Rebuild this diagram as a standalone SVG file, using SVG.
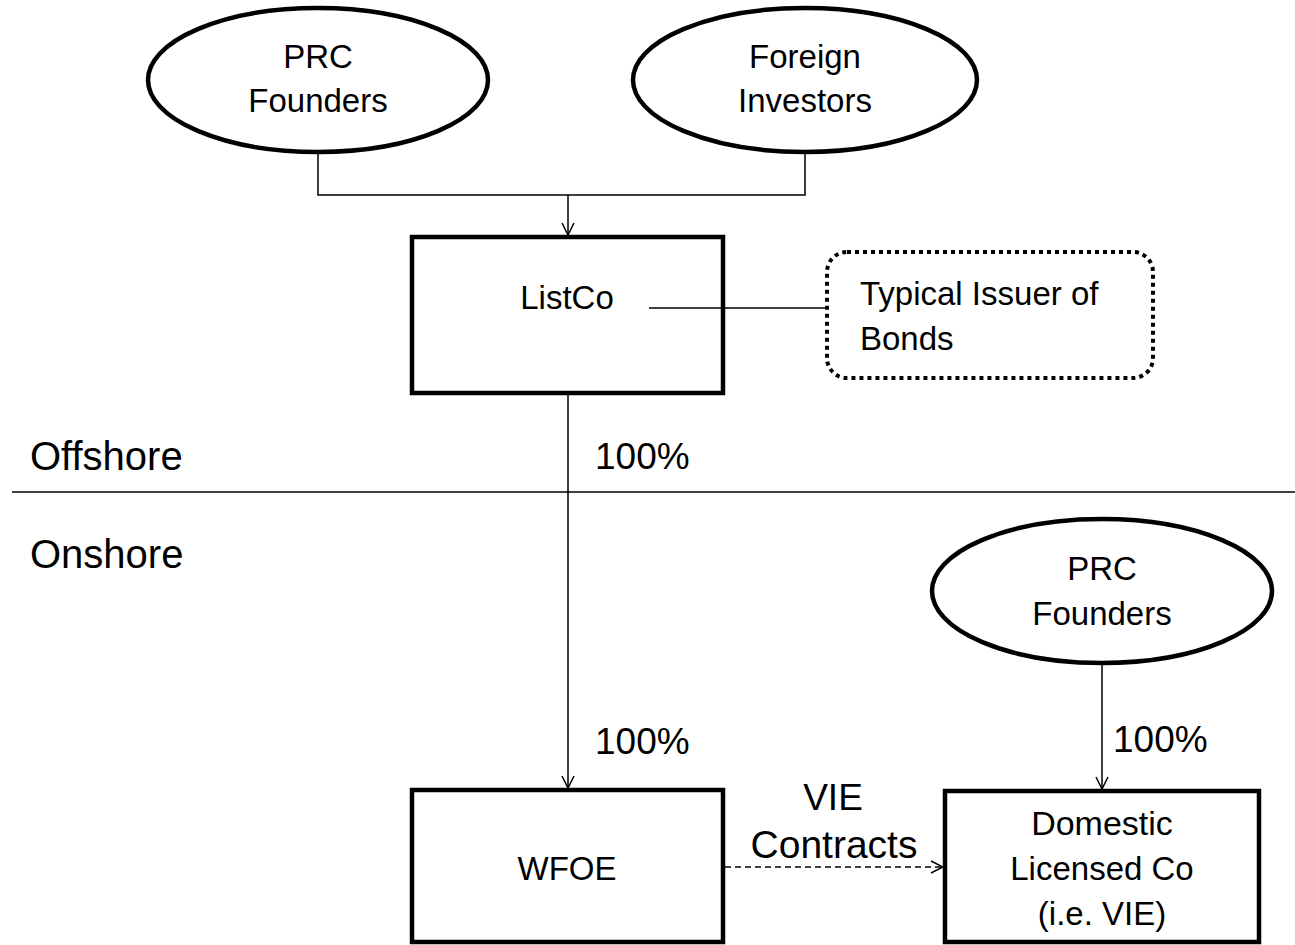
<svg xmlns="http://www.w3.org/2000/svg" width="1295" height="945" viewBox="0 0 1295 945">
<defs>
<style>
text{font-family:"Liberation Sans",Arial,sans-serif;fill:#000;font-size:33px}
.c{text-anchor:middle}
.big{font-size:37px}
.region{font-size:40px}
.node{fill:#fff;stroke:#000;stroke-width:4.5}
.ln{fill:none;stroke:#000;stroke-width:1.5}
</style>
<marker id="arr" viewBox="0 0 14 14" refX="13" refY="7" markerWidth="14" markerHeight="14" markerUnits="userSpaceOnUse" orient="auto">
<path d="M1,1 L13,7 L1,13" fill="none" stroke="#000" stroke-width="1.5"/>
</marker>
</defs>
<rect width="1295" height="945" fill="#fff"/>
<g id="divider">
<line x1="12" y1="492" x2="1295" y2="492" stroke="#000" stroke-width="1.5"/>
<text x="30" y="470" class="region">Offshore</text>
<text x="30" y="568" class="region">Onshore</text>
</g>
<g id="labels">
<text x="595" y="469" class="big">100%</text>
<text x="595" y="754" class="big">100%</text>
<text x="1113" y="752" class="big">100%</text>
<text x="833" y="810" class="c big">VIE</text>
<text x="834" y="858" class="c" style="font-size:39px">Contracts</text>
</g>
<g id="prc-founders-top">
<ellipse class="node" cx="318" cy="80" rx="170" ry="72"/>
<text x="318" y="68" class="c">PRC</text>
<text x="318" y="112" class="c">Founders</text>
</g>
<g id="foreign-investors">
<ellipse class="node" cx="805" cy="80" rx="172" ry="72"/>
<text x="805" y="68" class="c">Foreign</text>
<text x="805" y="112" class="c">Investors</text>
</g>
<g id="listco">
<rect class="node" x="412" y="237" width="311" height="156"/>
<text x="567" y="309" class="c">ListCo</text>
</g>
<g id="issuer-note">
<rect x="827" y="252" width="326" height="126" rx="20" fill="none" stroke="#000" stroke-width="4" stroke-dasharray="4 4"/>
<text x="860" y="305">Typical Issuer of</text>
<text x="860" y="350">Bonds</text>
</g>
<g id="prc-founders-onshore">
<ellipse class="node" cx="1102" cy="591" rx="170" ry="72"/>
<text x="1102" y="580" class="c">PRC</text>
<text x="1102" y="625" class="c">Founders</text>
</g>
<g id="wfoe">
<rect class="node" x="412" y="790" width="311" height="152"/>
<text x="567" y="880" class="c">WFOE</text>
</g>
<g id="domestic">
<rect class="node" x="945" y="791" width="314" height="151"/>
<text x="1102" y="835" class="c" style="font-size:34px">Domestic</text>
<text x="1102" y="880" class="c">Licensed Co</text>
<text x="1102" y="925" class="c">(i.e. VIE)</text>
</g>
<g id="connectors">
<path class="ln" d="M318,153 V195 H805 V153"/>
<path class="ln" d="M568,195 V235" marker-end="url(#arr)"/>
<path class="ln" d="M649,308 H826"/>
<path class="ln" d="M568,395 V788" marker-end="url(#arr)"/>
<path class="ln" d="M1102,664 V789" marker-end="url(#arr)"/>
<path class="ln" d="M725,867 H943" stroke-dasharray="6 4" marker-end="url(#arr)"/>
</g>
</svg>
